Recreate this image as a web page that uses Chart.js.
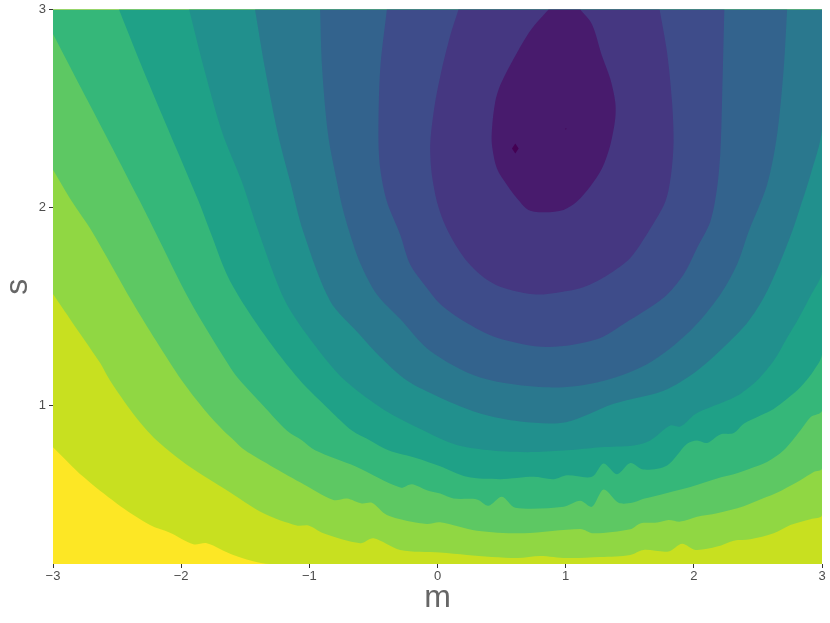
<!DOCTYPE html>
<html>
<head>
<meta charset="utf-8">
<script src="https://cdn.jsdelivr.net/npm/chart.js@4.4.1/dist/chart.umd.min.js"></script>
<style>
  html, body { margin: 0; padding: 0; background: #fff; }
  canvas { display: block; }
</style>
</head>
<body>
<canvas id="contour" width="830" height="623"></canvas>
<script>
// axes
const xTicks = [-3, -2, -1, 0, 1, 2, 3];
const yTicks = [1, 2, 3];
const mRange = [-3, 3];
const sRange = [0.2, 3];

// contour lines, as [m, s] pairs
// c1 is the innermost level, c11 the outermost one
const lowA = [[0.607, 2.323], [0.633, 2.298], [0.607, 2.273], [0.581, 2.298]];
const lowB = [[1.002, 2.402], [1.006, 2.398], [1.002, 2.394], [0.998, 2.398]];

const c1 = [[0.867, 3.0], [0.776, 2.935], [0.698, 2.868], [0.593, 2.75], [0.489, 2.617], [0.45, 2.533],
  [0.425, 2.398], [0.425, 2.315], [0.464, 2.197], [0.542, 2.114], [0.62, 2.047], [0.71, 1.988],
  [0.841, 1.976], [0.984, 1.988], [1.088, 2.03], [1.192, 2.106], [1.283, 2.197], [1.348, 2.315],
  [1.387, 2.449], [1.387, 2.533], [1.348, 2.65], [1.283, 2.767], [1.205, 2.926], [1.114, 3.0]];

const c2 = [[0.164, 3.0], [0.099, 2.868], [0.034, 2.7], [-0.018, 2.533], [-0.052, 2.365], [-0.057, 2.281],
  [-0.044, 2.164], [-0.005, 2.03], [0.047, 1.93], [0.125, 1.829], [0.23, 1.729], [0.359, 1.648],
  [0.489, 1.6], [0.698, 1.566], [0.827, 1.561], [1.01, 1.578], [1.137, 1.598], [1.244, 1.628],
  [1.374, 1.678], [1.504, 1.745], [1.647, 1.879], [1.778, 2.03], [1.822, 2.164], [1.842, 2.332],
  [1.83, 2.533], [1.791, 2.784], [1.733, 3.0]];

const c3 = [[-0.395, 3.0], [-0.447, 2.7], [-0.461, 2.365], [-0.447, 2.197], [-0.395, 2.03], [-0.291, 1.863],
  [-0.213, 1.712], [-0.083, 1.594], [0.021, 1.513], [0.203, 1.427], [0.464, 1.343], [0.854, 1.296],
  [1.244, 1.335], [1.465, 1.417], [1.764, 1.544], [1.92, 1.662], [2.025, 1.796], [2.129, 1.93],
  [2.181, 2.097], [2.207, 2.281], [2.22, 2.533], [2.238, 3.0]];

const c4 = [[-0.916, 3.0], [-0.9, 2.7], [-0.853, 2.365], [-0.785, 2.131], [-0.744, 2.005], [-0.689, 1.879],
  [-0.603, 1.719], [-0.473, 1.561], [-0.291, 1.437], [-0.057, 1.276], [0.333, 1.142], [0.854, 1.092],
  [1.244, 1.117], [1.635, 1.209], [1.971, 1.377], [2.207, 1.561], [2.337, 1.712], [2.428, 1.879],
  [2.571, 2.114], [2.649, 2.365], [2.701, 2.7], [2.728, 3.0]];

const c5 = [[-1.424, 3.0], [-1.345, 2.698], [-1.244, 2.367], [-1.15, 2.131], [-1.048, 1.879], [-0.838, 1.528],
  [-0.619, 1.367], [-0.432, 1.236], [-0.239, 1.126], [0.021, 1.04], [0.333, 0.96], [0.646, 0.92],
  [1.002, 0.916], [1.374, 1.009], [1.764, 1.075], [2.025, 1.176], [2.285, 1.327], [2.428, 1.427],
  [2.545, 1.544], [2.66, 1.704], [2.767, 1.879], [2.832, 2.005], [2.91, 2.164], [3.0, 2.397]];

const c6 = [[-1.938, 3.0], [-1.814, 2.683], [-1.681, 2.382], [-1.527, 2.131], [-1.397, 1.879], [-1.189, 1.528],
  [-0.955, 1.302], [-0.721, 1.126], [-0.409, 0.975], [-0.109, 0.874], [0.073, 0.819], [0.23, 0.789],
  [0.489, 0.769], [0.749, 0.765], [1.01, 0.774], [1.27, 0.79], [1.53, 0.799], [1.66, 0.824],
  [1.816, 0.899], [1.895, 0.894], [2.012, 0.958], [2.129, 0.991], [2.259, 1.025], [2.363, 1.059],
  [2.493, 1.126], [2.623, 1.226], [2.728, 1.343], [2.806, 1.427], [2.91, 1.553], [3.0, 1.678]];

const c7 = [[-2.485, 3.0], [-2.321, 2.734], [-2.126, 2.432], [-1.863, 2.03], [-1.774, 1.879], [-1.618, 1.628],
  [-1.345, 1.352], [-1.072, 1.126], [-0.838, 0.975], [-0.668, 0.874], [-0.526, 0.824], [-0.383, 0.774],
  [-0.161, 0.734], [0.021, 0.693], [0.23, 0.64], [0.489, 0.628], [0.749, 0.64], [0.906, 0.628],
  [1.01, 0.648], [1.205, 0.64], [1.296, 0.707], [1.4, 0.653], [1.504, 0.71], [1.608, 0.677],
  [1.791, 0.698], [1.947, 0.807], [2.025, 0.824], [2.103, 0.811], [2.207, 0.854], [2.311, 0.861],
  [2.389, 0.908], [2.519, 0.95], [2.623, 0.983], [2.728, 1.034], [2.831, 1.092], [2.935, 1.176], [3.0, 1.26]];

const c8 = [[-3.0, 2.876], [-2.805, 2.633], [-2.602, 2.382], [-2.321, 2.03], [-2.204, 1.879], [-1.931, 1.528],
  [-1.617, 1.192], [-1.541, 1.126], [-1.361, 1.0], [-1.176, 0.874], [-1.056, 0.824], [-0.955, 0.774],
  [-0.642, 0.693], [-0.291, 0.586], [-0.2, 0.603], [-0.083, 0.573], [0.021, 0.556], [0.125, 0.531],
  [0.308, 0.526], [0.398, 0.494], [0.503, 0.539], [0.607, 0.484], [0.984, 0.489], [1.114, 0.519],
  [1.205, 0.489], [1.296, 0.576], [1.413, 0.509], [1.518, 0.509], [1.608, 0.529], [1.791, 0.559],
  [1.973, 0.589], [2.181, 0.632], [2.311, 0.653], [2.441, 0.682], [2.571, 0.715], [2.701, 0.774],
  [2.831, 0.874], [2.91, 0.941], [3.0, 0.975]];

const c9 = [[-3.0, 2.191], [-2.852, 2.03], [-2.696, 1.879], [-2.386, 1.528], [-2.196, 1.327], [-1.995, 1.126],
  [-1.814, 0.975], [-1.671, 0.874], [-1.587, 0.824], [-1.502, 0.774], [-1.306, 0.698], [-1.072, 0.613],
  [-0.812, 0.523], [-0.707, 0.531], [-0.59, 0.506], [-0.512, 0.509], [-0.395, 0.447], [-0.213, 0.414],
  [-0.083, 0.402], [0.021, 0.411], [0.308, 0.368], [0.671, 0.355], [1.114, 0.377], [1.218, 0.355],
  [1.504, 0.375], [1.582, 0.405], [1.713, 0.409], [1.803, 0.422], [1.895, 0.414], [2.025, 0.439],
  [2.181, 0.456], [2.389, 0.492], [2.571, 0.539], [2.689, 0.573], [2.831, 0.623], [2.935, 0.665], [3.0, 0.682]];

const c10 = [[-3.0, 1.563], [-2.82, 1.392], [-2.633, 1.216], [-2.555, 1.126], [-2.373, 0.958], [-2.19, 0.824],
  [-1.93, 0.69], [-1.644, 0.573], [-1.358, 0.456], [-1.098, 0.394], [-1.007, 0.394], [-0.89, 0.355],
  [-0.603, 0.305], [-0.5, 0.33], [-0.291, 0.271], [0.021, 0.258], [0.23, 0.246], [0.62, 0.23],
  [0.802, 0.241], [1.01, 0.23], [1.27, 0.235], [1.504, 0.246], [1.608, 0.271], [1.803, 0.263],
  [1.908, 0.302], [2.012, 0.271], [2.181, 0.288], [2.311, 0.318], [2.441, 0.325], [2.623, 0.355],
  [2.753, 0.397], [2.91, 0.426], [3.0, 0.447]];

const c11 = [[-3.0, 0.79], [-2.763, 0.64], [-2.503, 0.506], [-2.243, 0.397], [-2.087, 0.358],
  [-1.905, 0.3], [-1.8, 0.305], [-1.593, 0.246], [-1.306, 0.2]];

// one viridis colour per band, from the lowest band to the highest
const bandColors = ['#440154', '#481b6d', '#453781', '#3e4c8a', '#33638d', '#2a788e', '#21908d',
  '#1fa187', '#35b779', '#5dc863', '#90d743', '#c8e020', '#fde725'];

const topLeft = [mRange[0], sRange[1]];
const topRight = [mRange[1], sRange[1]];
const bottomRight = [mRange[1], sRange[0]];

// each region holds every point below its level, so the regions nest;
// dataset 0 is painted last, so the innermost one goes first
const regions = [
  [lowA, 0], [lowB, 0],
  [c1, 1], [c2, 2], [c3, 3], [c4, 4],
  [c5.concat([topRight]), 5],
  [c6.concat([topRight]), 6],
  [c7.concat([topRight]), 7],
  [c8.concat([topRight, topLeft]), 8],
  [c9.concat([topRight, topLeft]), 9],
  [c10.concat([topRight, topLeft]), 10],
  [c11.concat([bottomRight, topRight, topLeft]), 11]
];

const datasets = regions.map(([pts, band]) => ({
  data: pts.map(([m, s]) => ({x: m, y: s})),
  backgroundColor: bandColors[band],
  borderColor: 'transparent',
  borderWidth: 0,
  pointRadius: 0,
  tension: band === 0 ? 0 : 0.3,
  fill: 'shape'
}));

// the highest band fills whatever is left of the panel
const panelFill = {
  id: 'panelFill',
  beforeDraw(chart) {
    const {ctx, chartArea: a} = chart;
    ctx.save();
    ctx.fillStyle = bandColors[bandColors.length - 1];
    ctx.fillRect(a.left, a.top, a.right - a.left, a.bottom - a.top);
    ctx.restore();
  }
};

const minus = v => (v < 0 ? '\u2212' + Math.abs(v) : String(v));
const tickFont = {family: '"Liberation Sans", Arial, sans-serif', size: 13, lineHeight: 1};
const titleFont = {family: '"Liberation Sans", Arial, sans-serif', size: 32, lineHeight: 1};
const tickMarks = {drawOnChartArea: false, drawTicks: true, tickLength: 4, color: '#333333', lineWidth: 1};

new Chart(document.getElementById('contour'), {
  type: 'line',
  data: {datasets: datasets},
  plugins: [panelFill],
  options: {
    responsive: false,
    animation: false,
    events: [],
    devicePixelRatio: 1,
    layout: {padding: {top: 7, right: 8, left: 0, bottom: 0}},
    plugins: {legend: {display: false}, tooltip: {enabled: false}},
    scales: {
      x: {
        type: 'linear',
        min: mRange[0],
        max: mRange[1],
        afterBuildTicks: axis => { axis.ticks = xTicks.map(v => ({value: v})); },
        afterFit: axis => { axis.height = 59; },
        grid: tickMarks,
        border: {display: false},
        ticks: {color: '#4d4d4d', font: tickFont, padding: 2, maxRotation: 0, autoSkip: false,
          callback: v => minus(v)},
        title: {display: true, text: 'm', color: '#666666', font: titleFont, padding: {top: 0, bottom: 9}}
      },
      y: {
        type: 'linear',
        min: sRange[0],
        max: sRange[1],
        afterBuildTicks: axis => { axis.ticks = yTicks.map(v => ({value: v})); },
        afterFit: axis => { axis.width = 53; },
        grid: tickMarks,
        border: {display: false},
        ticks: {color: '#4d4d4d', font: tickFont, padding: 3, autoSkip: false, callback: v => minus(v)},
        title: {display: true, text: 's', color: '#666666', font: titleFont, padding: {top: 2, bottom: 0}}
      }
    }
  }
});
</script>
</body>
</html>
